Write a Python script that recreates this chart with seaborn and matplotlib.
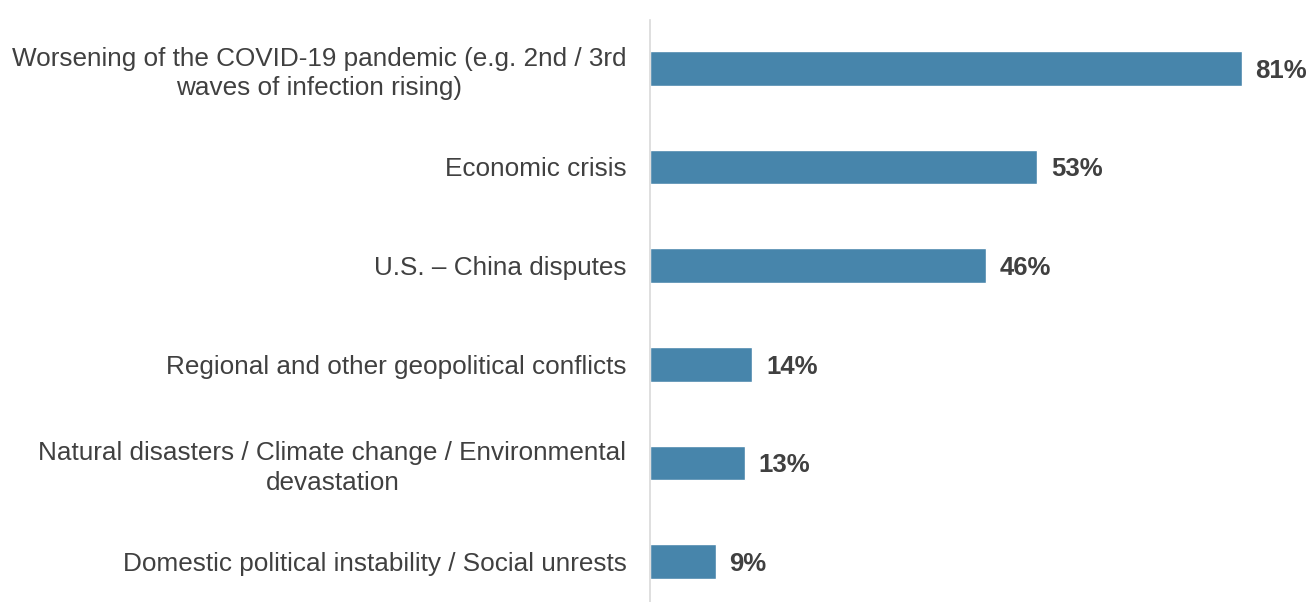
import matplotlib
matplotlib.use("Agg")
import matplotlib.pyplot as plt
import seaborn as sns
import pandas as pd

categories = [
    "Worsening of the COVID-19 pandemic (e.g. 2nd / 3rd\nwaves of infection rising)",
    "Economic crisis",
    "U.S. \u2013 China disputes",
    "Regional and other geopolitical conflicts",
    "Natural disasters / Climate change / Environmental\ndevastation",
    "Domestic political instability / Social unrests",
]
values = [81, 53, 46, 14, 13, 9]

df = pd.DataFrame({"category": categories, "value": values})

sns.set_theme(style="white")
plt.rcParams["font.family"] = ["Liberation Sans", "DejaVu Sans"]

fig = plt.figure(figsize=(13.08, 6.02), dpi=100)
ax = fig.add_axes([650 / 1308, 0.0, 658 / 1308, 582 / 602])

sns.barplot(data=df, x="value", y="category", orient="h", color="#4785AB",
            saturation=1, width=0.35, ax=ax)

ax.set_xlim(0, 90.1)
ax.set_ylim(5.41, -0.49)
ax.set_xlabel("")
ax.set_ylabel("")
ax.set_xticks([])
for s in ["top", "right", "bottom"]:
    ax.spines[s].set_visible(False)
ax.spines["left"].set_color("#d9d9d9")
ax.spines["left"].set_linewidth(1.2)

ax.tick_params(axis="y", length=0, pad=17)
for lbl in ax.get_yticklabels():
    lbl.set_fontsize(18.8)
    lbl.set_color("#404040")
    lbl.set_multialignment("center")
    lbl.set_linespacing(1.28)

for container in ax.containers:
    labels = ax.bar_label(container, labels=[f"{v}%" for v in values], padding=10,
                          fontsize=18.5, fontweight="bold", color="#404040")
    for t in labels:
        t.set_va("center_baseline")

fig.savefig("out.png", dpi=100)
